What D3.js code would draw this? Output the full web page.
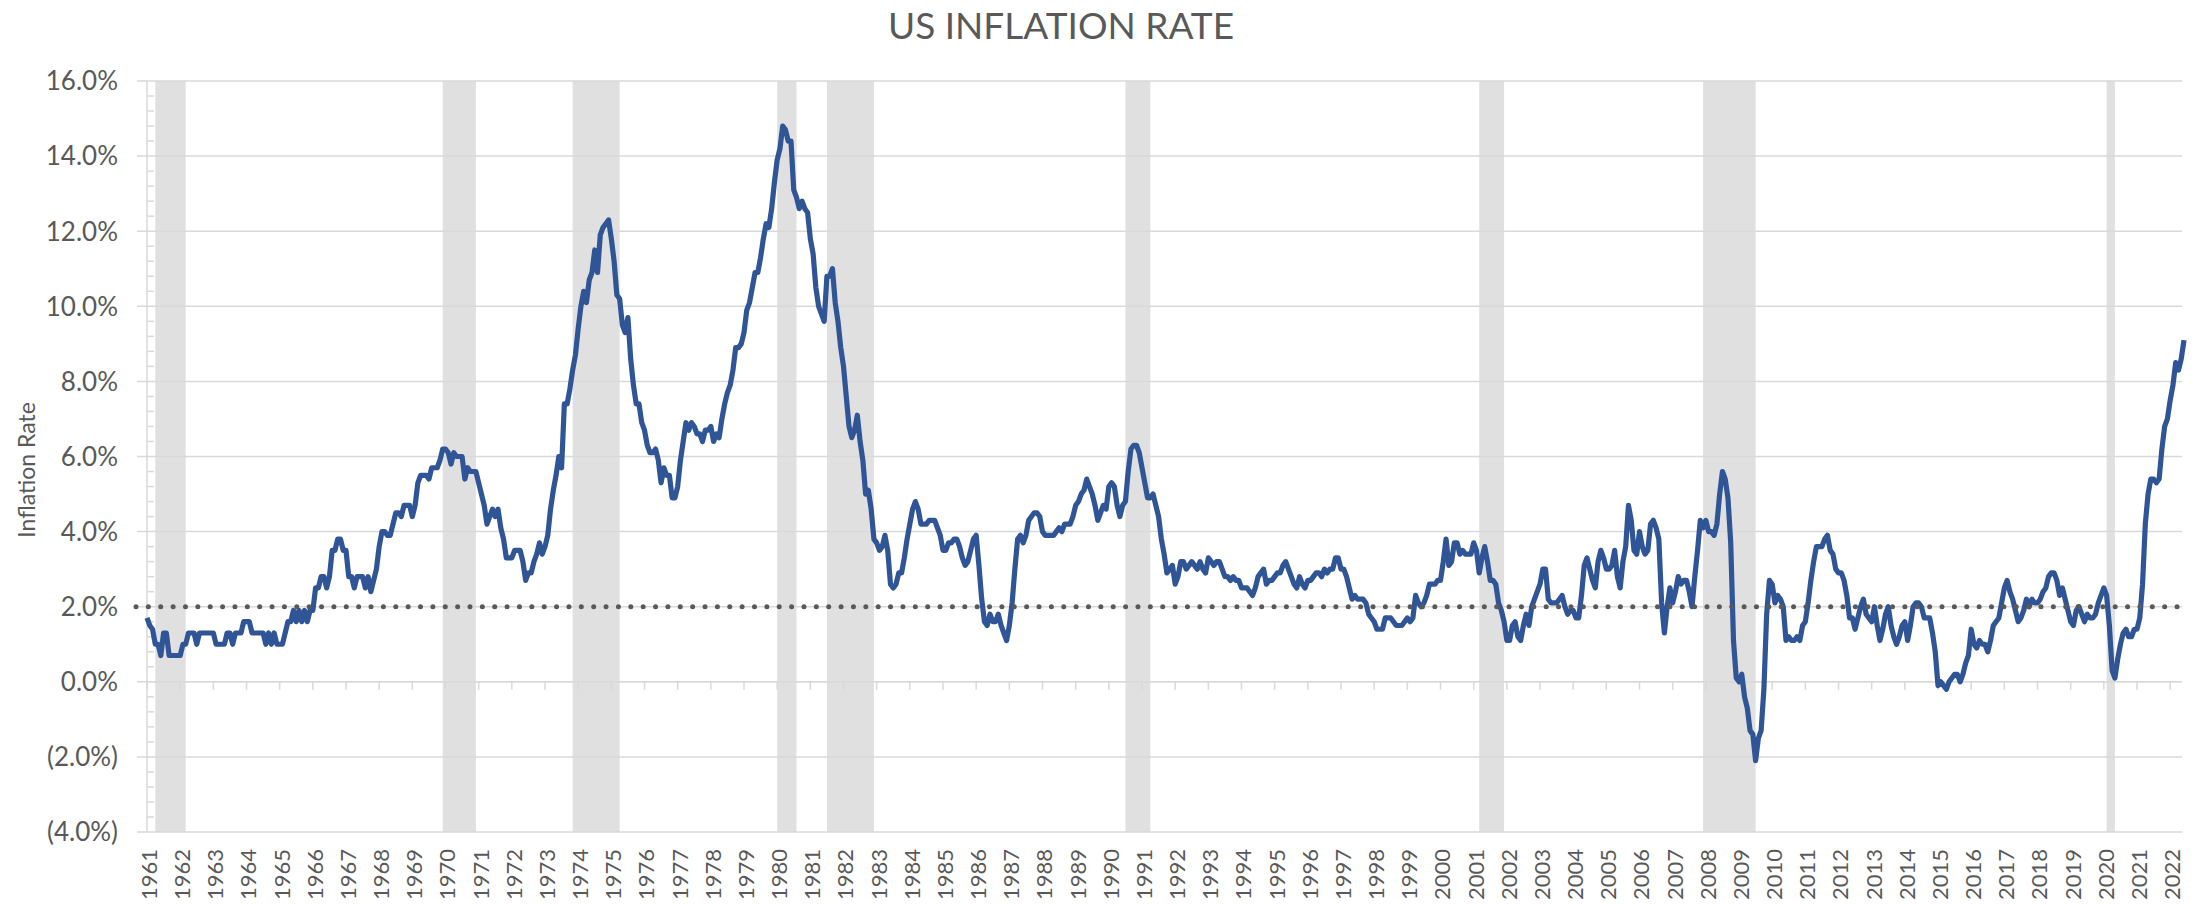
<!DOCTYPE html>
<html>
<head>
<meta charset="utf-8">
<title>US Inflation Rate</title>
<script src="https://cdn.jsdelivr.net/npm/d3@7"></script>
<style>
    body { margin: 0; background: #ffffff; }
    svg text { font-family: Lato, "Open Sans", sans-serif; fill: #595959; }
</style>
</head>
<body>
<div id="chart"></div>
<script>

// monthly CPI inflation (year over year, %), Jan 1961 .. Jun 2022
var startYear = 1961;
var inflationRate = [
    1.7, 1.5, 1.4, 1.0, 1.0, 0.7, 1.3, 1.3, 0.7, 0.7, 0.7, 0.7,        // 1961
    0.7, 1.0, 1.0, 1.3, 1.3, 1.3, 1.0, 1.3, 1.3, 1.3, 1.3, 1.3,        // 1962
    1.3, 1.0, 1.0, 1.0, 1.0, 1.3, 1.3, 1.0, 1.3, 1.3, 1.3, 1.6,        // 1963
    1.6, 1.6, 1.3, 1.3, 1.3, 1.3, 1.3, 1.0, 1.3, 1.0, 1.3, 1.0,        // 1964
    1.0, 1.0, 1.3, 1.6, 1.6, 1.9, 1.6, 1.9, 1.6, 1.9, 1.6, 1.9,        // 1965
    1.9, 2.5, 2.5, 2.8, 2.8, 2.5, 2.8, 3.5, 3.5, 3.8, 3.8, 3.5,        // 1966
    3.5, 2.8, 2.8, 2.5, 2.8, 2.8, 2.8, 2.5, 2.8, 2.4, 2.7, 3.0,        // 1967
    3.6, 4.0, 4.0, 3.9, 3.9, 4.2, 4.5, 4.5, 4.4, 4.7, 4.7, 4.7,        // 1968
    4.4, 4.7, 5.3, 5.5, 5.5, 5.5, 5.4, 5.7, 5.7, 5.7, 5.9, 6.2,        // 1969
    6.2, 6.1, 5.8, 6.1, 6.0, 6.0, 6.0, 5.4, 5.7, 5.6, 5.6, 5.6,        // 1970
    5.3, 5.0, 4.7, 4.2, 4.4, 4.6, 4.4, 4.6, 4.1, 3.8, 3.3, 3.3,        // 1971
    3.3, 3.5, 3.5, 3.5, 3.2, 2.7, 2.9, 2.9, 3.2, 3.4, 3.7, 3.4,        // 1972
    3.6, 3.9, 4.6, 5.1, 5.5, 6.0, 5.7, 7.4, 7.4, 7.8, 8.3, 8.7,        // 1973
    9.4, 10.0, 10.4, 10.1, 10.7, 10.9, 11.5, 10.9, 11.9, 12.1, 12.2, 12.3, // 1974
    11.8, 11.2, 10.3, 10.2, 9.5, 9.3, 9.7, 8.6, 7.9, 7.4, 7.4, 6.9,    // 1975
    6.7, 6.3, 6.1, 6.1, 6.2, 5.9, 5.3, 5.7, 5.5, 5.5, 4.9, 4.9,        // 1976
    5.2, 5.9, 6.4, 6.9, 6.7, 6.9, 6.8, 6.6, 6.6, 6.4, 6.7, 6.7,        // 1977
    6.8, 6.4, 6.6, 6.5, 7.0, 7.4, 7.7, 7.9, 8.3, 8.9, 8.9, 9.0,        // 1978
    9.3, 9.9, 10.1, 10.5, 10.9, 10.9, 11.3, 11.8, 12.2, 12.1, 12.6, 13.3, // 1979
    13.9, 14.2, 14.8, 14.7, 14.4, 14.4, 13.1, 12.9, 12.6, 12.8, 12.6, 12.5, // 1980
    11.8, 11.4, 10.5, 10.0, 9.8, 9.6, 10.8, 10.8, 11.0, 10.1, 9.6, 8.9, // 1981
    8.4, 7.6, 6.8, 6.5, 6.7, 7.1, 6.4, 5.9, 5.0, 5.1, 4.6, 3.8,        // 1982
    3.7, 3.5, 3.6, 3.9, 3.5, 2.6, 2.5, 2.6, 2.9, 2.9, 3.3, 3.8,        // 1983
    4.2, 4.6, 4.8, 4.6, 4.2, 4.2, 4.2, 4.3, 4.3, 4.3, 4.1, 3.9,        // 1984
    3.5, 3.5, 3.7, 3.7, 3.8, 3.8, 3.6, 3.3, 3.1, 3.2, 3.5, 3.8,        // 1985
    3.9, 3.1, 2.2, 1.6, 1.5, 1.8, 1.6, 1.6, 1.8, 1.5, 1.3, 1.1,        // 1986
    1.5, 2.1, 3.0, 3.8, 3.9, 3.7, 3.9, 4.3, 4.4, 4.5, 4.5, 4.4,        // 1987
    4.0, 3.9, 3.9, 3.9, 3.9, 4.0, 4.1, 4.0, 4.2, 4.2, 4.2, 4.4,        // 1988
    4.7, 4.8, 5.0, 5.1, 5.4, 5.2, 5.0, 4.7, 4.3, 4.5, 4.7, 4.6,        // 1989
    5.2, 5.3, 5.2, 4.7, 4.4, 4.7, 4.8, 5.6, 6.2, 6.3, 6.3, 6.1,        // 1990
    5.7, 5.3, 4.9, 4.9, 5.0, 4.7, 4.4, 3.8, 3.4, 2.9, 3.0, 3.1,        // 1991
    2.6, 2.8, 3.2, 3.2, 3.0, 3.1, 3.2, 3.1, 3.0, 3.2, 3.0, 2.9,        // 1992
    3.3, 3.2, 3.1, 3.2, 3.2, 3.0, 2.8, 2.8, 2.7, 2.8, 2.7, 2.7,        // 1993
    2.5, 2.5, 2.5, 2.4, 2.3, 2.5, 2.8, 2.9, 3.0, 2.6, 2.7, 2.7,        // 1994
    2.8, 2.9, 2.9, 3.1, 3.2, 3.0, 2.8, 2.6, 2.5, 2.8, 2.6, 2.5,        // 1995
    2.7, 2.7, 2.8, 2.9, 2.9, 2.8, 3.0, 2.9, 3.0, 3.0, 3.3, 3.3,        // 1996
    3.0, 3.0, 2.8, 2.5, 2.2, 2.3, 2.2, 2.2, 2.2, 2.1, 1.8, 1.7,        // 1997
    1.6, 1.4, 1.4, 1.4, 1.7, 1.7, 1.7, 1.6, 1.5, 1.5, 1.5, 1.6,        // 1998
    1.7, 1.6, 1.7, 2.3, 2.1, 2.0, 2.1, 2.3, 2.6, 2.6, 2.6, 2.7,        // 1999
    2.7, 3.2, 3.8, 3.1, 3.2, 3.7, 3.7, 3.4, 3.5, 3.4, 3.4, 3.4,        // 2000
    3.7, 3.5, 2.9, 3.3, 3.6, 3.2, 2.7, 2.7, 2.6, 2.1, 1.9, 1.6,        // 2001
    1.1, 1.1, 1.5, 1.6, 1.2, 1.1, 1.5, 1.8, 1.5, 2.0, 2.2, 2.4,        // 2002
    2.6, 3.0, 3.0, 2.2, 2.1, 2.1, 2.1, 2.2, 2.3, 2.0, 1.8, 1.9,        // 2003
    1.9, 1.7, 1.7, 2.3, 3.1, 3.3, 3.0, 2.7, 2.5, 3.2, 3.5, 3.3,        // 2004
    3.0, 3.0, 3.1, 3.5, 2.8, 2.5, 3.2, 3.6, 4.7, 4.3, 3.5, 3.4,        // 2005
    4.0, 3.6, 3.4, 3.5, 4.2, 4.3, 4.1, 3.8, 2.1, 1.3, 2.0, 2.5,        // 2006
    2.1, 2.4, 2.8, 2.6, 2.7, 2.7, 2.4, 2.0, 2.8, 3.5, 4.3, 4.1,        // 2007
    4.3, 4.0, 4.0, 3.9, 4.2, 5.0, 5.6, 5.4, 4.9, 3.7, 1.1, 0.1,        // 2008
    0.0, 0.2, -0.4, -0.7, -1.3, -1.4, -2.1, -1.5, -1.3, -0.2, 1.8, 2.7, // 2009
    2.6, 2.1, 2.3, 2.2, 2.0, 1.1, 1.2, 1.1, 1.1, 1.2, 1.1, 1.5,        // 2010
    1.6, 2.1, 2.7, 3.2, 3.6, 3.6, 3.6, 3.8, 3.9, 3.5, 3.4, 3.0,        // 2011
    2.9, 2.9, 2.7, 2.3, 1.7, 1.7, 1.4, 1.7, 2.0, 2.2, 1.8, 1.7,        // 2012
    1.6, 2.0, 1.5, 1.1, 1.4, 1.8, 2.0, 1.5, 1.2, 1.0, 1.2, 1.5,        // 2013
    1.6, 1.1, 1.5, 2.0, 2.1, 2.1, 2.0, 1.7, 1.7, 1.7, 1.3, 0.8,        // 2014
    -0.1, 0.0, -0.1, -0.2, 0.0, 0.1, 0.2, 0.2, 0.0, 0.2, 0.5, 0.7,     // 2015
    1.4, 1.0, 0.9, 1.1, 1.0, 1.0, 0.8, 1.1, 1.5, 1.6, 1.7, 2.1,        // 2016
    2.5, 2.7, 2.4, 2.2, 1.9, 1.6, 1.7, 1.9, 2.2, 2.0, 2.2, 2.1,        // 2017
    2.1, 2.2, 2.4, 2.5, 2.8, 2.9, 2.9, 2.7, 2.3, 2.5, 2.2, 1.9,        // 2018
    1.6, 1.5, 1.9, 2.0, 1.8, 1.6, 1.8, 1.7, 1.7, 1.8, 2.1, 2.3,        // 2019
    2.5, 2.3, 1.5, 0.3, 0.1, 0.6, 1.0, 1.3, 1.4, 1.2, 1.2, 1.4,        // 2020
    1.4, 1.7, 2.6, 4.2, 5.0, 5.4, 5.4, 5.3, 5.4, 6.2, 6.8, 7.0,        // 2021
    7.5, 7.9, 8.5, 8.3, 8.6, 9.1                                        // 2022
];

// recession periods (first month, last month), shaded grey
var recessions = [
    ["1961-04", "1962-02"],
    ["1969-12", "1970-11"],
    ["1973-11", "1975-03"],
    ["1980-01", "1980-07"],
    ["1981-07", "1982-11"],
    ["1990-07", "1991-03"],
    ["2001-03", "2001-11"],
    ["2007-12", "2009-06"],
    ["2020-02", "2020-04"]
];

var targetRate = 2.0;
var yTicks = [-4, -2, 0, 2, 4, 6, 8, 10, 12, 14, 16];
var yearLabels = d3.range(1961, 2023);

var chartTitle = "US INFLATION RATE";
var yTitle = "Inflation Rate";

var width = 2201, height = 906;
var margin = {left: 147, right: 2184, top: 81, bottom: 832};
var gridLeft = 137, gridRight = 2182;

function monthIndex(s) {
    var p = s.split("-");
    return (+p[0] - startYear) * 12 + (+p[1] - 1);
}

function pctLabel(v) {
    var t = Math.abs(v).toFixed(1) + "%";
    return v < 0 ? "(" + t + ")" : t;
}

var x = d3.scaleLinear().domain([0, inflationRate.length - 1]).range([margin.left, margin.right]);
var y = d3.scaleLinear().domain([d3.min(yTicks), d3.max(yTicks)]).range([margin.bottom, margin.top]);

var svg = d3.select("#chart").append("svg")
    .attr("width", width)
    .attr("height", height);

// recession bands
svg.append("g").selectAll("rect")
    .data(recessions)
    .enter().append("rect")
    .attr("x", function(d) { return x(monthIndex(d[0])); })
    .attr("width", function(d) { return x(monthIndex(d[1]) + 1) - x(monthIndex(d[0])); })
    .attr("y", margin.top)
    .attr("height", margin.bottom - margin.top)
    .attr("fill", "#e0e0e0");

// horizontal grid lines
svg.append("g").selectAll("line")
    .data(yTicks)
    .enter().append("line")
    .attr("x1", gridLeft).attr("x2", gridRight)
    .attr("y1", function(d) { return y(d); })
    .attr("y2", function(d) { return y(d); })
    .attr("stroke", "#d9d9d9")
    .attr("stroke-width", 1.5);

// y axis line + minor ticks
svg.append("line")
    .attr("x1", margin.left).attr("x2", margin.left)
    .attr("y1", margin.top).attr("y2", margin.bottom)
    .attr("stroke", "#d9d9d9").attr("stroke-width", 1.5);

var minorTicks = d3.range(-4, 16, 0.4).filter(function(v) {
    return Math.abs(v / 2 - Math.round(v / 2)) > 0.01;
});
svg.append("g").selectAll("line")
    .data(minorTicks)
    .enter().append("line")
    .attr("x1", margin.left).attr("x2", margin.left + 7)
    .attr("y1", function(d) { return y(d); })
    .attr("y2", function(d) { return y(d); })
    .attr("stroke", "#d9d9d9").attr("stroke-width", 1.5);

// x axis at 0% with yearly ticks
svg.append("line")
    .attr("x1", margin.left).attr("x2", gridRight)
    .attr("y1", y(0)).attr("y2", y(0))
    .attr("stroke", "#d9d9d9").attr("stroke-width", 1.5);

svg.append("g").selectAll("line")
    .data(yearLabels)
    .enter().append("line")
    .attr("x1", function(d) { return x((d - startYear) * 12); })
    .attr("x2", function(d) { return x((d - startYear) * 12); })
    .attr("y1", y(0)).attr("y2", y(0) + 8)
    .attr("stroke", "#d9d9d9").attr("stroke-width", 1.5);

// inflation line
var line = d3.line()
    .x(function(d, i) { return x(i); })
    .y(function(d) { return y(d); });

svg.append("path")
    .datum(inflationRate)
    .attr("d", line)
    .attr("fill", "none")
    .attr("stroke", "#2f5597")
    .attr("stroke-width", 5.2)
    .attr("stroke-linejoin", "round");

// 2% target, dotted
svg.append("line")
    .attr("x1", gridLeft - 1).attr("x2", gridRight)
    .attr("y1", y(targetRate)).attr("y2", y(targetRate))
    .attr("stroke", "#595959")
    .attr("stroke-width", 5)
    .attr("stroke-linecap", "round")
    .attr("stroke-dasharray", "0 12.37");

// y tick labels
svg.append("g").selectAll("text")
    .data(yTicks)
    .enter().append("text")
    .attr("x", 118)
    .attr("y", function(d) { return y(d); })
    .attr("dy", "0.36em")
    .attr("text-anchor", "end")
    .style("font-size", "26px")
    .text(pctLabel);

// year labels, rotated
svg.append("g").selectAll("text")
    .data(yearLabels)
    .enter().append("text")
    .attr("transform", function(d) {
        return "translate(" + (x((d - startYear) * 12) + 2) + "," + 849 + ") rotate(-90)";
    })
    .attr("dy", "0.36em")
    .attr("text-anchor", "end")
    .style("font-size", "22px")
    .text(function(d) { return d; });

// titles
svg.append("text")
    .attr("x", 1061).attr("y", 39)
    .attr("text-anchor", "middle")
    .style("font-size", "37px")
    .text(chartTitle);

svg.append("text")
    .attr("transform", "translate(35,470) rotate(-90)")
    .attr("text-anchor", "middle")
    .style("font-size", "23px")
    .text(yTitle);

</script>
</body>
</html>
